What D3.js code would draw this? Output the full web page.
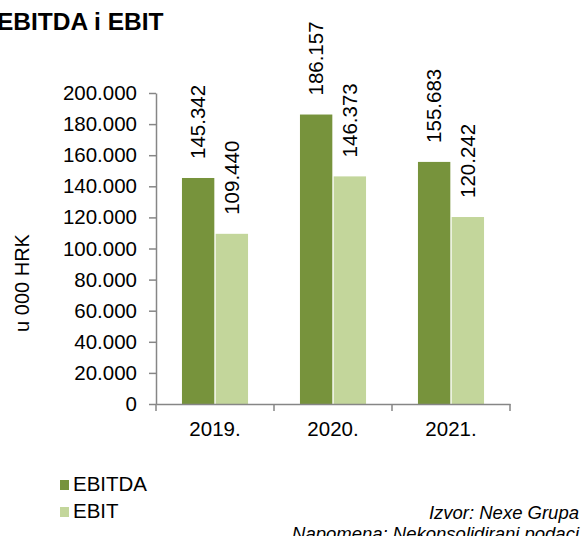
<!DOCTYPE html>
<html lang="hr">
<head>
  <meta charset="UTF-8">
  <title>EBITDA i EBIT</title>
  <script src="https://d3js.org/d3.v7.min.js"></script>
  <style>
    body {
      margin: 0;
      background: #fff;
      font-family: "Liberation Sans", Arial, sans-serif;
    }
    .axis path, .axis line {
      stroke: #868686;
      stroke-width: 1.5;
    }
    .axis text {
      font-family: "Liberation Sans", Arial, sans-serif;
      font-size: 20.5px;
      fill: #000;
    }
    .value {
      font-size: 20.5px;
      fill: #000;
    }
  </style>
</head>
<body>
  <svg width="583" height="536"></svg>
  <script>
    const years = ["2019.", "2020.", "2021."];
    const series = ["EBITDA", "EBIT"];
    const ebitda = [145342, 186157, 155683];
    const ebit = [109440, 146373, 120242];
    const yTicks = [0, 20000, 40000, 60000, 80000, 100000, 120000, 140000, 160000, 180000, 200000];
    const colors = ["#77933c", "#c3d69b"];

    const rows = years.map((y, i) => ({ year: y, values: [ebitda[i], ebit[i]] }));

    const svg = d3.select("svg");
    const fmt = v => v === 0 ? "0" : d3.format(",.3f")(v / 1000).replace(/,/g, "");
    const fmtTick = v => v === 0 ? "0" : (v / 1000) + ".000";

    const x0 = d3.scaleBand()
      .domain(years)
      .range([156, 510]);

    const x1 = d3.scaleBand()
      .domain(series)
      .range([x0.bandwidth() * 0.22, x0.bandwidth() * 0.78])
      .paddingInner(0.04);

    const y = d3.scaleLinear()
      .domain([0, 200000])
      .range([404, 93]);

    // title
    svg.append("text")
      .attr("x", -3)
      .attr("y", 30)
      .style("font-weight", "bold")
      .style("font-size", "24.5px")
      .text("EBITDA i EBIT");

    // bars
    const groups = svg.selectAll(".grp")
      .data(rows)
      .enter()
      .append("g")
      .attr("class", "grp")
      .attr("transform", d => `translate(${x0(d.year)},0)`);

    groups.selectAll("rect")
      .data(d => d.values.map((v, i) => ({ key: series[i], value: v, i })))
      .enter()
      .append("rect")
      .attr("x", d => x1(d.key))
      .attr("width", x1.bandwidth())
      .attr("y", d => y(d.value))
      .attr("height", d => y(0) - y(d.value))
      .attr("fill", d => colors[d.i]);

    groups.selectAll(".value")
      .data(d => d.values.map((v, i) => ({ key: series[i], value: v })))
      .enter()
      .append("text")
      .attr("class", "value")
      .attr("transform", d => `translate(${x1(d.key) + x1.bandwidth() / 2},${y(d.value) - 19}) rotate(-90)`)
      .attr("dy", "0.35em")
      .text(d => fmt(d.value));

    // y axis
    svg.append("g")
      .attr("class", "axis")
      .attr("transform", "translate(156,0)")
      .call(d3.axisLeft(y).tickValues(yTicks).tickFormat(fmtTick).tickSize(7).tickSizeOuter(0).tickPadding(12));

    // x axis
    const xAxis = svg.append("g")
      .attr("class", "axis")
      .attr("transform", "translate(0,404)")
      .call(d3.axisBottom(x0).tickSize(0).tickSizeOuter(0).tickPadding(17));

    xAxis.selectAll(".sep")
      .data(years.map(d => x0(d)).concat([x0.range()[1]]))
      .enter()
      .append("line")
      .attr("class", "sep")
      .attr("x1", d => d)
      .attr("x2", d => d)
      .attr("y1", 0)
      .attr("y2", 7);

    // y title
    svg.append("text")
      .attr("transform", "translate(22,283) rotate(-90)")
      .attr("text-anchor", "middle")
      .attr("dy", "0.35em")
      .style("font-size", "20px")
      .text("u 000 HRK");

    // legend
    const legend = svg.selectAll(".leg")
      .data(series)
      .enter()
      .append("g")
      .attr("class", "leg")
      .attr("transform", (d, i) => `translate(60,${480 + i * 27})`);

    legend.append("rect")
      .attr("width", 9)
      .attr("height", 10)
      .attr("fill", (d, i) => colors[i]);

    legend.append("text")
      .attr("x", 13)
      .attr("y", 11)
      .style("font-size", "20.5px")
      .text(d => d);

    // source
    const notes = ["Izvor: Nexe Grupa", "Napomena: Nekonsolidirani podaci"];
    svg.selectAll(".note")
      .data(notes)
      .enter()
      .append("text")
      .attr("class", "note")
      .attr("x", 579)
      .attr("y", (d, i) => 519 + i * 21)
      .attr("text-anchor", "end")
      .style("font-style", "italic")
      .style("font-size", "18.5px")
      .text(d => d);
  </script>
</body>
</html>
